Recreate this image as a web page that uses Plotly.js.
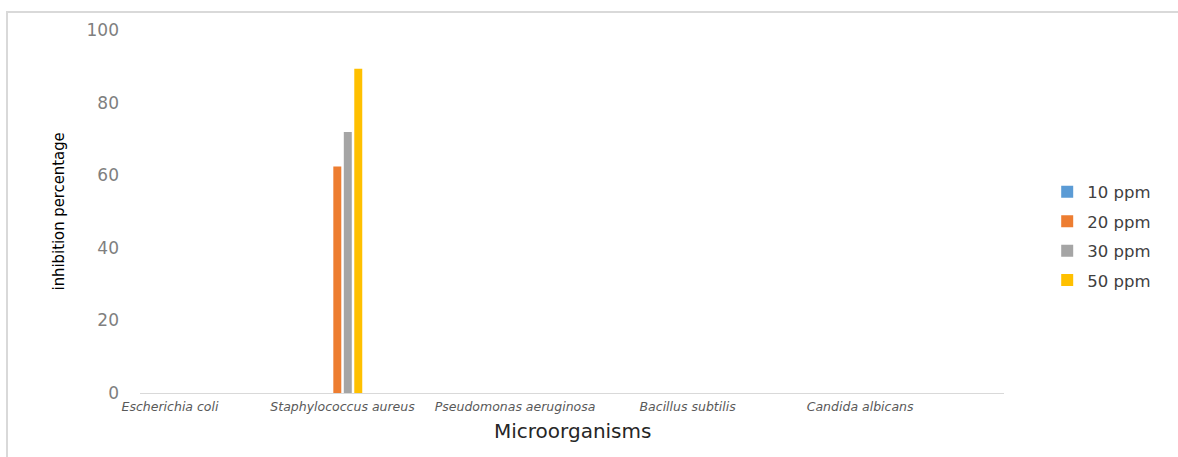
<!DOCTYPE html>
<html>
<head>
<meta charset="utf-8">
<script src="https://cdn.plot.ly/plotly-3.0.1.min.js"></script>
<style>
  html, body { margin: 0; padding: 0; background: #fff; }
  #wrap { position: relative; width: 1178px; height: 457px; overflow: hidden; }
  #frame { position: absolute; left: 6px; top: 11px; width: 1200px; height: 500px;
           border-left: 2px solid #d9d9d9; border-top: 2px solid #d9d9d9; pointer-events: none; }
  #chart { position: absolute; left: 0; top: 0; width: 1178px; height: 457px; }
</style>
</head>
<body>
<div id="wrap">
  <div id="chart"></div>
  <div id="frame"></div>
</div>
<script>
// Microorganisms tested
const organisms = [
  'Escherichia coli',
  'Staphylococcus aureus',
  'Pseudomonas aeruginosa',
  'Bacillus subtilis',
  'Candida albicans'
];

// Inhibition percentage per concentration
const ppm10 = [0, 0, 0, 0, 0];
const ppm20 = [0, 62.4, 0, 0, 0];
const ppm30 = [0, 71.9, 0, 0, 0];
const ppm50 = [0, 89.3, 0, 0, 0];

const seriesNames = ['10 ppm', '20 ppm', '30 ppm', '50 ppm'];
const seriesValues = [ppm10, ppm20, ppm30, ppm50];
const seriesColors = ['#5B9BD5', '#ED7D31', '#A5A5A5', '#FFC000'];

const yTicks = [0, 20, 40, 60, 80, 100];

const traces = seriesNames.map((name, i) => ({
  type: 'bar',
  name: name,
  x: organisms,
  y: seriesValues[i],
  legendgroup: 'g' + i,
  marker: { color: seriesColors[i], line: { width: 0 } },
  hoverinfo: 'x+y+name'
}));

const layout = {
  width: 1178,
  height: 457,
  margin: { l: 140, r: 174, t: 30, b: 64 },
  paper_bgcolor: 'rgba(0,0,0,0)',
  plot_bgcolor: 'rgba(0,0,0,0)',
  barmode: 'group',
  bargap: 0.757,
  bargroupgap: 0.24,
  font: { family: 'DejaVu Sans, sans-serif', color: '#595959' },
  xaxis: {
    type: 'category',
    range: [-0.174, 4.834],
    showgrid: false,
    zeroline: false,
    showline: true,
    linecolor: '#d9d9d9',
    linewidth: 1,
    ticks: '',
    tickfont: { family: 'DejaVu Sans, sans-serif', size: 12.5, color: '#595959', style: 'italic' },
    ticklabelstandoff: 2,
    fixedrange: true
  },
  yaxis: {
    range: [0, 100],
    tickvals: yTicks,
    ticktext: yTicks.map(String),
    showgrid: false,
    zeroline: false,
    showline: false,
    ticks: '',
    tickfont: { family: 'DejaVu Sans, sans-serif', size: 17, color: '#7f7f7f' },
    ticklabelstandoff: 20,
    fixedrange: true
  },
  showlegend: true,
  legend: {
    x: 1.05,
    xanchor: 'left',
    y: 0.4325,
    yanchor: 'middle',
    tracegroupgap: 5,
    itemwidth: 30,
    font: { family: 'DejaVu Sans, sans-serif', size: 16.5, color: '#404040' },
    bgcolor: 'rgba(0,0,0,0)'
  },
  annotations: [
    {
      text: 'inhibition percentage',
      xref: 'paper', yref: 'paper',
      x: -0.0945, y: 0.501,
      xanchor: 'center', yanchor: 'middle',
      textangle: -90,
      showarrow: false,
      font: { family: 'DejaVu Sans Condensed, Liberation Sans Narrow, sans-serif', size: 16.5, color: '#000000' }
    },
    {
      text: 'Microorganisms',
      xref: 'paper', yref: 'paper',
      x: 0.5, y: -0.1047,
      xanchor: 'center', yanchor: 'middle',
      showarrow: false,
      font: { family: 'DejaVu Sans, sans-serif', size: 20, color: '#262626' }
    }
  ]
};

Plotly.newPlot('chart', traces, layout, { displayModeBar: false, staticPlot: true });
</script>
</body>
</html>
